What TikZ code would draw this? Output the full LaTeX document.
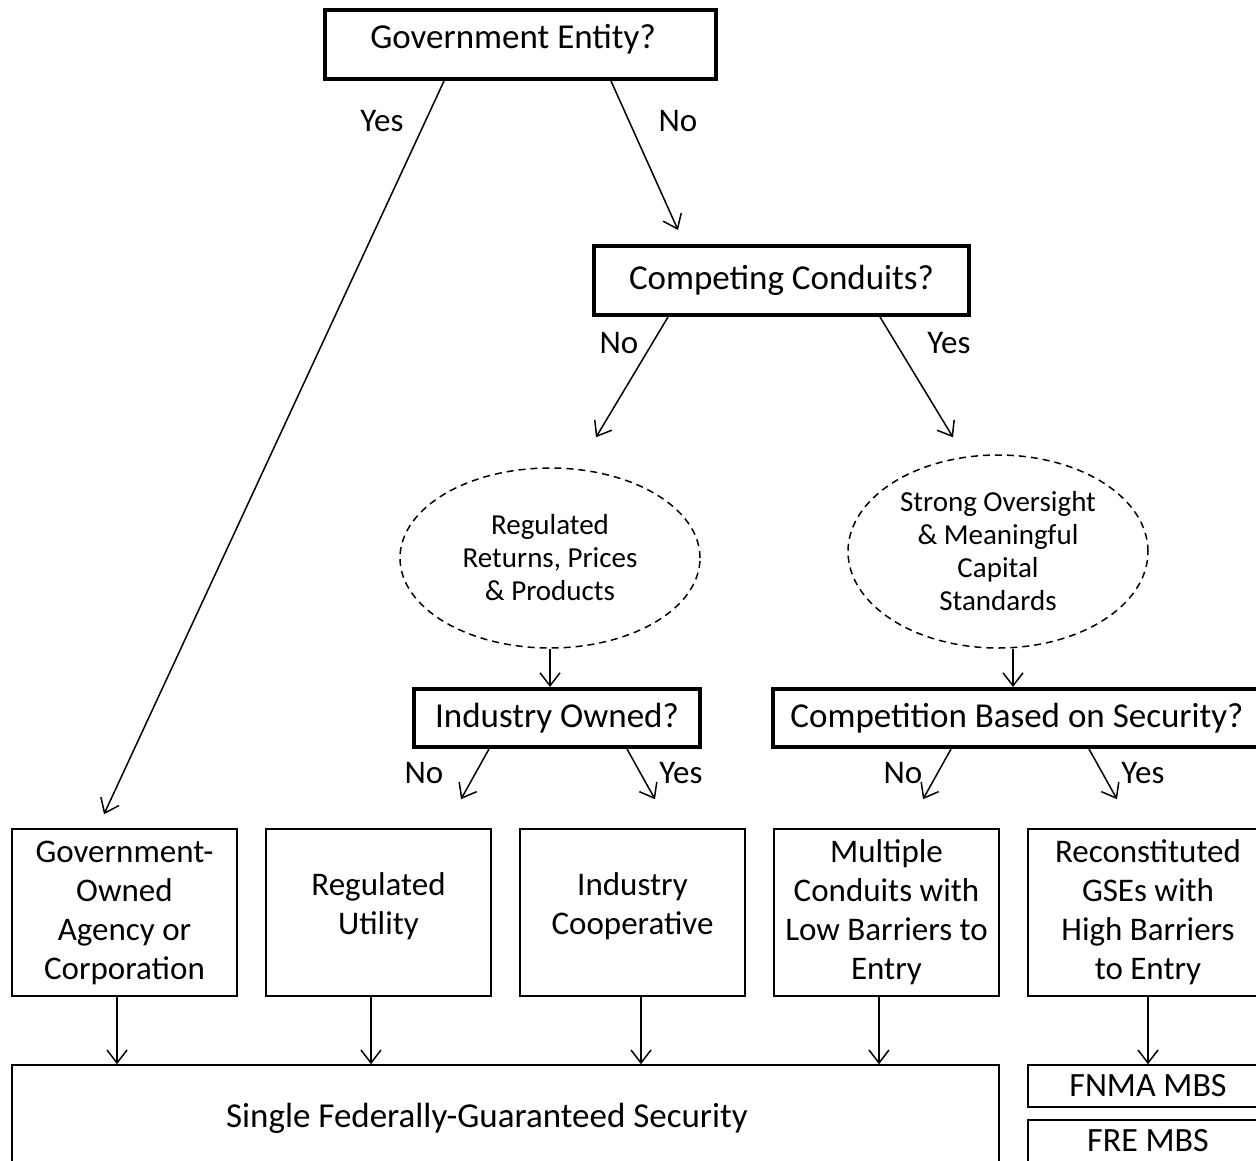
\documentclass[tikz,border=0pt]{standalone}
\usepackage{fontspec}
\setmainfont{Carlito}
\usetikzlibrary{arrows.meta,shapes.geometric,positioning}

\tikzset{
  question/.style={draw, line width=4pt, minimum height=69pt, inner sep=0pt, font=\fontsize{35}{40}\selectfont},
  outcome/.style={draw, line width=1.6pt, minimum width=225pt, minimum height=167pt, align=center, inner sep=0pt, font=\fontsize{33}{39}\selectfont},
  security/.style={draw, line width=1.6pt, inner sep=0pt, font=\fontsize{34}{39}\selectfont},
  criterion/.style={draw, ellipse, dash pattern=on 7pt off 5pt, line width=1.5pt, minimum width=300pt, align=center, inner sep=0pt, font=\fontsize{29}{33}\selectfont},
  answer/.style={inner sep=0pt, font=\fontsize{33}{38}\selectfont},
  flow/.style={line width=1.5pt, -{Straight Barb[length=13pt,width=20pt]}},
}

\begin{document}
\begin{tikzpicture}[x=1pt,y=-1pt]
	\useasboundingbox[fill=white] (0,0) rectangle (1256,1160);
	\node[question, minimum width=391pt] (govq) at (520.5,44.5) {};
	\node[answer, font=\fontsize{35}{40}\selectfont] (govtext) at (513,39) {Government Entity?};
	\node[question, minimum width=375pt] (compq) at (781.5,280.5) {Competing Conduits?};
	\node[criterion, minimum height=180pt] (regell) at (550,558) {Regulated\\Returns, Prices\\\& Products};
	\node[criterion, minimum height=193pt] (ovrell) at (998,551.5) {Strong Oversight\\\& Meaningful\\Capital\\Standards};
	\node[question, minimum width=286pt, minimum height=58pt] (indq) at (557,718) {Industry Owned?};
	\node[question, minimum width=488pt, minimum height=58pt] (secq) at (1017,718) {Competition Based on Security?};
	\node[outcome] (agency) at (124.5,912.5) {Government-\\Owned\\Agency or\\Corporation};
	\node[outcome] (util) at (378.5,912.5) {Regulated\\Utility\\[-22pt]\mbox{}};
	\node[outcome] (coop) at (632.5,912.5) {Industry\\Cooperative\\[-22pt]\mbox{}};
	\node[outcome] (multi) at (886.5,912.5) {Multiple\\Conduits with\\Low Barriers to\\Entry};
	\node[outcome, minimum width=240pt] (recon) at (1148,912.5) {Reconstituted\\GSEs with\\High Barriers\\to Entry};
	\node[security, minimum width=987pt, minimum height=110pt] (single) at (505.5,1120) {};
	\node[answer, font=\fontsize{35}{40}\selectfont] (singletext) at (487,1118) {Single Federally-Guaranteed Security};
	\node[security, minimum width=240pt, minimum height=42pt] (fnma) at (1148,1086) {FNMA MBS};
	\node[security, minimum width=240pt, minimum height=55pt] (fre) at (1148,1147.5) {};
	\node[answer, font=\fontsize{34}{39}\selectfont] (fretext) at (1148,1141) {FRE MBS};

	\draw[flow] ([xshift=-76.5pt]govq.south) -- ([xshift=-20.5pt,yshift=14pt]agency.north);
	\draw[flow] ([xshift=90.5pt]govq.south) -- ([xshift=-103.5pt,yshift=14pt]compq.north);
	\draw[flow] ([xshift=-113.5pt]compq.south) -- ([xshift=46pt,yshift=30pt]regell.north);
	\draw[flow] ([xshift=98.5pt]compq.south) -- ([xshift=-45pt,yshift=17pt]ovrell.north);
	\draw[flow] (regell.south) -- (regell.south |- indq.north);
	\draw[flow] ([xshift=15pt]ovrell.south) -- ([xshift=15pt]ovrell.south |- secq.north);
	\draw[flow] ([xshift=-68pt]indq.south) -- ([xshift=82.5pt,yshift=29pt]util.north);
	\draw[flow] ([xshift=70pt]indq.south) -- ([xshift=22.5pt,yshift=29pt]coop.north);
	\draw[flow] ([xshift=-66pt]secq.south) -- ([xshift=36.5pt,yshift=29pt]multi.north);
	\draw[flow] ([xshift=72pt]secq.south) -- ([xshift=-31pt,yshift=29pt]recon.north);
	\foreach \src/\dx in {agency/-7.5, util/-7.5, coop/8.5, multi/-7.5}
		\draw[flow] ([xshift=\dx pt]\src.south) -- ([xshift=\dx pt]\src.south |- single.north);
	\draw[flow] (recon.south) -- (fnma.north);

	\node[answer] (govyes) at (382,121) {Yes};
	\node[answer] (govno) at (678,121) {No};
	\node[answer] (compno) at (619,343) {No};
	\node[answer] (compyes) at (949,343) {Yes};
	\node[answer] (indno) at (424,773) {No};
	\node[answer] (indyes) at (681,773) {Yes};
	\node[answer] (secno) at (903,773) {No};
	\node[answer] (secyes) at (1143,773) {Yes};
\end{tikzpicture}
\end{document}
